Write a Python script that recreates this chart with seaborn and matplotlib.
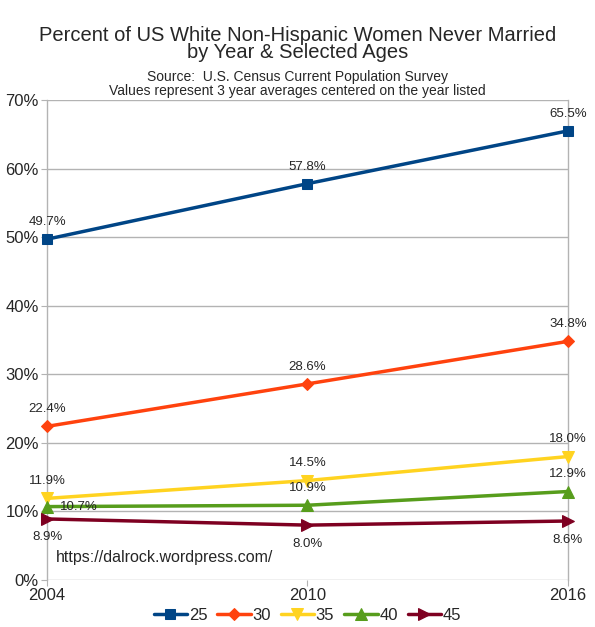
import matplotlib
matplotlib.use("Agg")
import matplotlib.pyplot as plt
import seaborn as sns
import pandas as pd

years = [2004, 2010, 2016]
ages = ["25", "30", "35", "40", "45"]
age25 = [49.7, 57.8, 65.5]
age30 = [22.4, 28.6, 34.8]
age35 = [11.9, 14.5, 18.0]
age40 = [10.7, 10.9, 12.9]
age45 = [8.9, 8.0, 8.6]
y_ticks = [0, 10, 20, 30, 40, 50, 60, 70]

values = [age25, age30, age35, age40, age45]
colors = ["#004586", "#ff420e", "#ffd320", "#579d1c", "#7e0021"]
markers = ["s", "D", "v", "^", ">"]
msizes = [7, 6, 8, 8, 8]

sns.set_style("white")
plt.rcParams["font.family"] = ["Liberation Sans", "DejaVu Sans"]

rows = []
for a, v in zip(ages, values):
    for yr, val in zip(years, v):
        rows.append({"Year": yr, "Age": a, "Pct": val})
df = pd.DataFrame(rows)

fig = plt.figure(figsize=(5.95, 6.27), dpi=100)
ax = fig.add_axes([0.079, 0.075, 0.8755, 0.7655])

for a, c, m, ms in zip(ages, colors, markers, msizes):
    sub = df[df["Age"] == a]
    sns.lineplot(data=sub, x="Year", y="Pct", ax=ax, color=c, marker=m,
                 markersize=ms, markeredgecolor=c, linewidth=2.5, label=a,
                 clip_on=False, zorder=3)

# data labels
for a, v in zip(ages, values):
    for i, (yr, val) in enumerate(zip(years, v)):
        txt = f"{val:.1f}%"
        if a == "45":
            ax.annotate(txt, (yr, val), xytext=(0, -9), textcoords="offset points",
                        ha="center", va="top", fontsize=9.5)
        elif a == "40" and i == 0:
            ax.annotate(txt, (yr, val), xytext=(9, 0), textcoords="offset points",
                        ha="left", va="center", fontsize=9.5)
        else:
            ax.annotate(txt, (yr, val), xytext=(0, 8), textcoords="offset points",
                        ha="center", va="bottom", fontsize=9.5)

ax.set_xlim(2004, 2016)
ax.set_ylim(0, 70)
ax.set_xticks(years)
ax.set_xticklabels([str(y) for y in years], fontsize=12)
ax.set_yticks(y_ticks)
ax.set_yticklabels([f"{t}%" for t in y_ticks], fontsize=12)
ax.yaxis.grid(True, color="#b3b3b3", linewidth=1)
ax.set_axisbelow(True)
ax.set_xlabel("")
ax.set_ylabel("")
for side in ["top", "bottom"]:
    ax.spines[side].set_visible(False)
for side in ["left", "right"]:
    ax.spines[side].set_color("#b3b3b3")
    ax.spines[side].set_linewidth(1)
ax.tick_params(axis="both", which="both", direction="out", length=4,
               color="#b3b3b3", bottom=True, left=True, pad=2)

ax.text(2004.2, 3.3, "https://dalrock.wordpress.com/", fontsize=11.5, ha="left", va="center")

fig.text(0.5, 0.9297, "Percent of US White Non-Hispanic Women Never Married\nby Year & Selected Ages",
         ha="center", va="center", fontsize=14.5, linespacing=0.85)
fig.text(0.5, 0.866, "Source:  U.S. Census Current Population Survey\nValues represent 3 year averages centered on the year listed",
         ha="center", va="center", fontsize=10, linespacing=0.93)

leg = ax.legend(loc="upper center", bbox_to_anchor=(0.5, -0.027), ncol=5, frameon=False,
                fontsize=12, handlelength=2.0, columnspacing=0.6, handletextpad=0.1)

fig.savefig("out.png", dpi=100)
